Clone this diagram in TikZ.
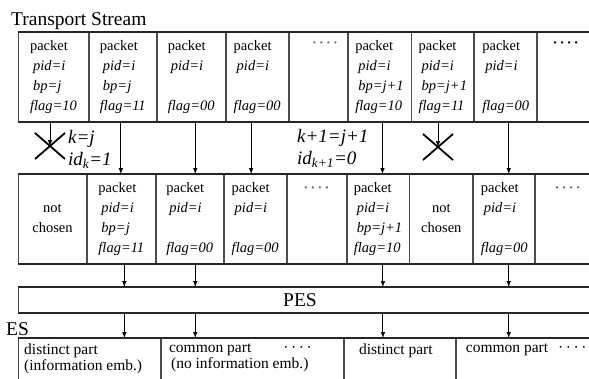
\documentclass[tikz,border=0pt]{standalone}
\usepackage{fontspec}
\setmainfont{Liberation Serif}
\usetikzlibrary{positioning,arrows}
\newcommand{\pkt}[2]{packet\\\hspace*{3pt}\textit{pid=i}\\\hspace*{3pt}\textit{#1}\strut\\\textit{flag=#2}}
\newcommand{\notchosen}{not\\chosen}
\newcommand{\fourdots}{\textperiodcentered\,\textperiodcentered\,\textperiodcentered\,\textperiodcentered}

\begin{document}
\begin{tikzpicture}[x=1pt,y=-1pt]
 \tikzset{cell/.style={draw=black!70,line width=0.9pt,anchor=north west,inner sep=0pt,align=left,minimum height=89,font=\fontsize{14.5}{20}\selectfont},
  rowline/.style={line width=1.8pt,black!85},
  arrow/.style={line width=1pt,-latex},
  cross/.style={line width=1.8pt},
  big/.style={inner sep=0pt,font=\fontsize{19.5}{22}\selectfont},
  var/.style={inner sep=0pt,align=left,font=\fontsize{19}{22}\selectfont\itshape},
  dots/.style={inner sep=0pt,font=\fontsize{14}{14}\selectfont\bfseries},
  estext/.style={inner sep=0pt,align=left,font=\fontsize{15.5}{16}\selectfont}}
 \useasboundingbox (0,0) rectangle (589,378);
 \clip (0,0) rectangle (589,378);

 \node[big,anchor=base west] (ts) at (11,25) {Transport Stream};

 % transport stream packets
 \node[cell,minimum width=70] (t1) at (18,32) {\pkt{bp=j}{10}};
 \node[cell,minimum width=67] (t2) at (t1.north east) {\pkt{bp=j}{11}};
 \node[cell,minimum width=68] (t3) at (t2.north east) {\pkt{}{00}};
 \node[cell,minimum width=62] (t4) at (t3.north east) {\pkt{}{00}};
 \node[cell,minimum width=58] (t5) at (t4.north east) {};
 \node[cell,minimum width=63] (t6) at (t5.north east) {\pkt{bp=j+1}{10}};
 \node[cell,minimum width=62] (t7) at (t6.north east) {\pkt{bp=j+1}{11}};
 \node[cell,minimum width=62] (t8) at (t7.north east) {\pkt{}{00}};
 \node[cell,minimum width=70] (t9) at (t8.north east) {};
 \node[dots,black!55] (t5d) at ([shift={(7,13)}]t5.north) {\fourdots};
 \node[dots] (t9d) at ([shift={(-7,13)}]t9.north) {\fourdots};
 \draw[rowline] (t1.north west) -- (t9.north east);
 \draw[rowline] (t1.south west) -- (t9.south east);

 % packets that are chosen
 \node[cell,minimum width=68,align=center] (m1) at (18,174) {\notchosen};
 \node[cell,minimum width=68] (m2) at (m1.north east) {\pkt{bp=j}{11}};
 \node[cell,minimum width=67] (m3) at (m2.north east) {\pkt{}{00}};
 \node[cell,minimum width=62] (m4) at (m3.north east) {\pkt{}{00}};
 \node[cell,minimum width=59] (m5) at (m4.north east) {};
 \node[cell,minimum width=62] (m6) at (m5.north east) {\pkt{bp=j+1}{10}};
 \node[cell,minimum width=63,align=center] (m7) at (m6.north east) {\notchosen};
 \node[cell,minimum width=61] (m8) at (m7.north east) {\pkt{}{00}};
 \node[cell,minimum width=70] (m9) at (m8.north east) {};
 \node[dots,black!60] (m5d) at ([shift={(0,16)}]m5.north) {\fourdots};
 \node[dots,black!60] (m9d) at ([shift={(-3,16)}]m9.north) {\fourdots};
 \draw[rowline] (m1.north west) -- (m9.north east);
 \draw[rowline] (m1.south west) -- (m9.south east);

 \foreach \a/\b/\dx in {t2/m2/-2,t3/m3/4,t4/m4/-6,t6/m6/3,t8/m8/3}
  \draw[arrow] ([xshift=\dx]\a.south) -- ([xshift=\dx]\a.south |- \b.north);

 % dropped packets
 \coordinate (x1) at (50,146);
 \coordinate (x2) at (438,147);
 \draw[arrow] (t1.south -| x1) -- (x1);
 \draw[arrow] (t7.south -| x2) -- (x2);
 \foreach \c in {x1,x2} {
  \draw[cross] ([shift={(-15,-13)}]\c) -- ([shift={(15,13)}]\c);
  \draw[cross] ([shift={(-15,13)}]\c) -- ([shift={(15,-13)}]\c);
 }
 \node[var,anchor=north west] (kj) at (68,130) {k=j\\id\textsubscript{k}=1};
 \node[var,anchor=north west] (kj1) at (297,129) {k+1=j+1\\id\textsubscript{k+1}=0};

 % PES
 \node[cell,minimum width=600,minimum height=25] (pes) at (18,287) {};
 \node[big] (pestext) at ([xshift=282]pes.west) {PES};
 \draw[rowline] (pes.north west) -- (pes.north east);
 \draw[rowline] (pes.south west) -- (pes.south east);

 % ES
 \node[big,anchor=base west] (es) at (6,335) {ES};
 \node[cell,minimum width=142,minimum height=80] (e1) at (18,338) {};
 \node[cell,minimum width=182,minimum height=80] (e2) at (e1.north east) {};
 \node[cell,minimum width=111,minimum height=80] (e3) at (e2.north east) {};
 \node[cell,minimum width=150,minimum height=80] (e4) at (e3.north east) {};
 \draw[rowline] (e1.north west) -- (e4.north east);
 \node[estext,below right=6pt and 6pt of e1.north west] (e1t) {distinct part\\(information emb.)};
 \node[estext,below right=6pt and 8pt of e2.north west] (e2t) {common part\hspace{32pt}\fourdots\\\hspace*{2pt}(no information emb.)};
 \node[estext,below right=6pt and 15pt of e3.north west] (e3t) {distinct part};
 \node[estext,below right=6pt and 10pt of e4.north west] (e4t) {common part\hspace{10pt}\fourdots};

 \foreach \b/\dx in {m2/3,m3/5.5,m6/5,m8/4.5} {
  \draw[arrow] ([xshift=\dx]\b.south) -- ([xshift=\dx]\b.south |- pes.north);
  \draw[arrow] ([xshift=\dx]\b.south |- pes.south) -- ([xshift=\dx]\b.south |- e1.north);
 }
\end{tikzpicture}
\end{document}
